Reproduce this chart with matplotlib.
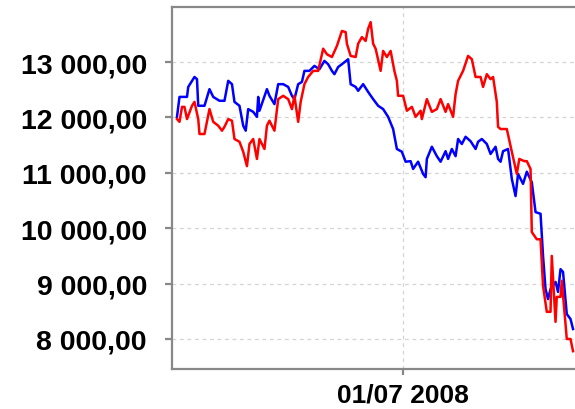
import matplotlib

matplotlib.use("Agg")
import matplotlib.dates as mdates
import matplotlib.pyplot as plt
import pandas as pd
from matplotlib.ticker import FixedLocator, FuncFormatter

# Blue series (date, value)
BLUE_DATES = [
    "2008-01-02", "2008-01-04", "2008-01-10", "2008-01-11", "2008-01-16", "2008-01-18",
    "2008-01-19", "2008-01-24", "2008-01-28", "2008-01-31", "2008-02-05", "2008-02-09",
    "2008-02-12", "2008-02-15", "2008-02-17", "2008-02-21", "2008-02-24", "2008-02-26",
    "2008-02-28", "2008-03-03", "2008-03-06", "2008-03-07", "2008-03-08", "2008-03-14",
    "2008-03-16", "2008-03-20", "2008-03-23", "2008-03-27", "2008-03-31", "2008-04-03",
    "2008-04-05", "2008-04-08", "2008-04-11", "2008-04-13", "2008-04-17", "2008-04-21",
    "2008-04-25", "2008-04-29", "2008-05-02", "2008-05-05", "2008-05-07", "2008-05-10",
    "2008-05-13", "2008-05-18", "2008-05-20", "2008-05-24", "2008-05-26", "2008-05-30",
    "2008-06-03", "2008-06-07", "2008-06-11", "2008-06-15", "2008-06-19", "2008-06-23",
    "2008-06-26", "2008-06-30", "2008-07-03", "2008-07-07", "2008-07-09", "2008-07-13",
    "2008-07-17", "2008-07-19", "2008-07-20", "2008-07-24", "2008-07-28", "2008-07-31",
    "2008-08-04", "2008-08-06", "2008-08-09", "2008-08-12", "2008-08-14", "2008-08-17",
    "2008-08-20", "2008-08-24", "2008-08-28", "2008-08-30", "2008-09-02", "2008-09-06",
    "2008-09-09", "2008-09-13", "2008-09-15", "2008-09-17", "2008-09-19", "2008-09-23",
    "2008-09-26", "2008-09-29", "2008-10-01", "2008-10-05", "2008-10-08", "2008-10-12",
    "2008-10-15", "2008-10-19", "2008-10-21", "2008-10-23", "2008-10-25", "2008-10-27",
    "2008-10-31", "2008-11-02", "2008-11-04", "2008-11-06", "2008-11-09", "2008-11-12",
    "2008-11-14",
]
BLUE_VALUES = [
    12010, 12370, 12370, 12550, 12730, 12690,
    12210, 12210, 12510, 12370, 12300, 12300,
    12660, 12600, 12280, 12210, 11850, 11760,
    12150, 12100, 12010, 12370, 12120, 12510,
    12390, 12240, 12600, 12600, 12550, 12390,
    12330, 12600, 12640, 12840, 12840, 12930,
    12870, 13020, 12960, 12840, 12780, 12910,
    12960, 13050, 12600, 12550, 12480, 12600,
    12460, 12330, 12210, 12150, 12010, 11790,
    11430, 11380, 11200, 11210, 11070, 11200,
    10980, 10920, 11250, 11470, 11300, 11200,
    11390, 11250, 11430, 11300, 11610, 11520,
    11650, 11570, 11430, 11560, 11610, 11520,
    11340, 11470, 11250, 11200, 11390, 11430,
    10890, 10580, 10980, 10800, 11020, 10830,
    10290, 10260, 9500, 8900, 8720, 8900,
    9030, 8850, 9260, 9210, 8450, 8360,
    8180,
]

# Red series (date, value)
RED_DATES = [
    "2008-01-02", "2008-01-04", "2008-01-06", "2008-01-08", "2008-01-10", "2008-01-14",
    "2008-01-16", "2008-01-19", "2008-01-20", "2008-01-24", "2008-01-28", "2008-01-31",
    "2008-02-04", "2008-02-07", "2008-02-09", "2008-02-12", "2008-02-15", "2008-02-17",
    "2008-02-21", "2008-02-24", "2008-02-27", "2008-02-29", "2008-03-03", "2008-03-06",
    "2008-03-08", "2008-03-12", "2008-03-14", "2008-03-16", "2008-03-20", "2008-03-23",
    "2008-03-27", "2008-03-31", "2008-04-03", "2008-04-05", "2008-04-08", "2008-04-10",
    "2008-04-13", "2008-04-16", "2008-04-20", "2008-04-24", "2008-04-28", "2008-05-01",
    "2008-05-05", "2008-05-09", "2008-05-13", "2008-05-16", "2008-05-17", "2008-05-20",
    "2008-05-24", "2008-05-26", "2008-05-29", "2008-06-01", "2008-06-03", "2008-06-05",
    "2008-06-07", "2008-06-09", "2008-06-13", "2008-06-15", "2008-06-18", "2008-06-21",
    "2008-06-24", "2008-06-26", "2008-06-27", "2008-07-01", "2008-07-04", "2008-07-08",
    "2008-07-11", "2008-07-15", "2008-07-16", "2008-07-20", "2008-07-24", "2008-07-28",
    "2008-07-31", "2008-08-04", "2008-08-06", "2008-08-10", "2008-08-12", "2008-08-14",
    "2008-08-18", "2008-08-22", "2008-08-25", "2008-08-28", "2008-09-01", "2008-09-03",
    "2008-09-06", "2008-09-09", "2008-09-11", "2008-09-14", "2008-09-15", "2008-09-17",
    "2008-09-22", "2008-09-26", "2008-09-30", "2008-10-02", "2008-10-06", "2008-10-08",
    "2008-10-11", "2008-10-12", "2008-10-16", "2008-10-19", "2008-10-21", "2008-10-24",
    "2008-10-27", "2008-10-28", "2008-10-31", "2008-11-01", "2008-11-04", "2008-11-05",
    "2008-11-08", "2008-11-09", "2008-11-12", "2008-11-14",
]
RED_VALUES = [
    11970, 11920, 12190, 12190, 11970, 12210,
    12280, 11970, 11700, 11700, 12150, 11920,
    11850, 11760, 11830, 11970, 11940, 11610,
    11560, 11380, 11120, 11520, 11610, 11250,
    11610, 11430, 11850, 11940, 11760, 12330,
    12390, 12330, 12150, 12390, 11920, 12280,
    12600, 12730, 12840, 12840, 13240, 13140,
    13090, 13290, 13560, 13540, 13330, 13110,
    13090, 13330, 13450, 13380, 13600, 13720,
    13330, 13240, 12840, 13200, 13090, 13200,
    12840, 12660, 12390, 12390, 12120, 12190,
    12010, 12120, 11970, 12330, 12100, 12150,
    12330, 12100, 12240, 12010, 12420, 12660,
    12840, 13110, 13050, 12730, 12730, 12550,
    12780, 12690, 12730, 12280, 11830, 11790,
    11790, 11380, 10980, 11250, 11210, 11210,
    11070, 9930, 9800, 9800, 8960, 8490,
    8490, 9500, 8310, 8760, 8760, 9050,
    8270, 8000, 8000, 7780,
]

Y_TICKS = [8000, 9000, 10000, 11000, 12000, 13000]
X_TICK = "2008-07-01"
X_RANGE = ("2007-12-29", "2008-11-15 14:00")
Y_RANGE = (7458, 13993)

AXIS_GRAY = "#888888"
GRID_GRAY = "#d4d4d4"
FONT = "Liberation Sans"


def fmt_value(v, _pos=None):
    s = f"{v:,.2f}"
    return s.replace(",", " ").replace(".", ",")


fig = plt.figure(figsize=(5.75, 4.10), dpi=100)
ax = fig.add_axes([172 / 575, 40 / 410, 403 / 575, 362 / 410])

ax.plot(pd.to_datetime(BLUE_DATES), BLUE_VALUES, color="#0000ff", lw=1.8, zorder=3)
ax.plot(pd.to_datetime(RED_DATES), RED_VALUES, color="#ff0000", lw=1.8, zorder=3)

ax.set_xlim(pd.Timestamp(X_RANGE[0]), pd.Timestamp(X_RANGE[1]))
ax.set_ylim(*Y_RANGE)

ax.yaxis.set_major_locator(FixedLocator(Y_TICKS))
ax.yaxis.set_major_formatter(FuncFormatter(fmt_value))
ax.xaxis.set_major_locator(FixedLocator([mdates.date2num(pd.Timestamp(X_TICK))]))
ax.xaxis.set_major_formatter(mdates.DateFormatter("%d/%m %Y"))

ax.grid(True, color=GRID_GRAY, linestyle=(0, (3, 3)), lw=0.9, zorder=1)

for side in ("left", "bottom", "top"):
    ax.spines[side].set_color(AXIS_GRAY)
    ax.spines[side].set_linewidth(1.6)
ax.spines["right"].set_visible(False)

ax.tick_params(axis="y", direction="out", length=5, width=1.6, color=AXIS_GRAY, pad=13)
ax.tick_params(axis="x", direction="out", length=4, width=1.6, color=AXIS_GRAY, pad=6)
for lab in ax.get_yticklabels():
    lab.set_fontfamily(FONT)
    lab.set_fontweight("bold")
    lab.set_fontsize(20.5)
    lab.set_color("black")
for lab in ax.get_xticklabels():
    lab.set_fontfamily(FONT)
    lab.set_fontweight("bold")
    lab.set_fontsize(19)
    lab.set_color("black")

fig.savefig("out.png", dpi=100)
